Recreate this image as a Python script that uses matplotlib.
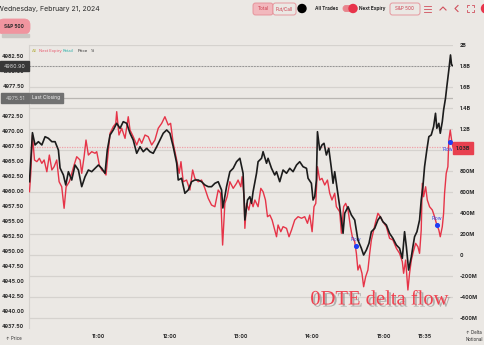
import matplotlib
matplotlib.use("Agg")
import matplotlib.pyplot as plt
import matplotlib.patches as patches
import matplotlib.patheffects as pe
from matplotlib.ticker import FixedLocator, FuncFormatter

plt.rcParams['font.family'] = ['Inter', 'DejaVu Sans']

# time = minutes after 10:00
price_t = [2.4, 4.9, 7.1, 9.9, 12.8, 15.5, 18.3, 21.2, 23.9, 26.7, 28.1, 30.9, 32.9, 35.1,
           37.9, 40.7, 43.5, 46.3, 49.1, 51.9, 54.7, 57.5, 60.3, 63.1, 65.9, 67.8, 70.1, 72.8,
           75.7, 78.5, 81.2, 84.1, 86.9, 89.6, 92.5, 95.3, 98.0, 100.9, 103.6, 106.4, 109.3,
           112.0, 114.8, 117.7, 120.4, 123.2, 126.1, 127.4, 130.2, 133.0, 135.8, 138.6, 141.4,
           144.2, 147.0, 149.8, 152.6, 155.4, 158.2, 161.0, 163.8, 164.9, 168.0, 170.8, 173.6,
           176.4, 179.2, 181.9, 183.4, 185.6, 187.6, 189.0, 190.3, 193.2, 194.5, 197.4, 198.7,
           201.6, 202.9, 205.8, 208.5, 210.0, 212.7, 215.5, 218.4, 221.1, 223.9, 226.8, 229.5,
           232.3, 235.2, 236.5, 239.3, 240.7, 242.1, 243.5, 244.4, 246.3, 248.2, 249.9, 251.9,
           253.9, 256.1, 257.5, 258.9, 260.3, 263.1, 264.5, 265.9, 267.3, 270.1, 272.9, 275.7,
           278.4, 281.3, 283.2, 285.5, 287.7, 289.7, 292.5, 295.2, 297.2, 299.4, 302.3, 305.0,
           307.8, 310.7, 313.4, 315.7, 317.6, 319.1, 321.0, 323.3, 324.6, 326.0, 328.0, 330.2,
           331.6, 333.0, 334.4, 336.3, 338.0, 340.0, 342.0, 343.6, 344.7, 346.4, 347.6, 349.3,
           350.4, 352.0, 353.1, 354.8, 356.2, 357.1, 358.2]
price = [4961.55, 4969.72, 4967.67, 4968.22, 4967.67, 4969.05, 4968.78, 4968.22, 4968.22,
         4966.83, 4963.83, 4962.67, 4961.00, 4963.22, 4961.83, 4964.33, 4963.50, 4960.72,
         4962.38, 4963.50, 4963.22, 4963.78, 4964.33, 4963.78, 4962.95, 4966.83, 4969.33,
         4970.17, 4971.28, 4970.45, 4971.55, 4971.28, 4969.62, 4968.50, 4966.28, 4967.38,
         4966.55, 4967.12, 4966.55, 4966.28, 4967.38, 4968.50, 4969.62, 4970.17, 4969.62,
         4967.38, 4964.62, 4961.83, 4962.12, 4959.62, 4960.17, 4961.55, 4961.83, 4961.83,
         4961.55, 4961.00, 4960.72, 4960.72, 4961.28, 4961.55, 4960.17, 4957.17, 4960.72,
         4963.22, 4963.78, 4964.88, 4965.45, 4962.95, 4955.17, 4958.50, 4959.05, 4957.95,
         4959.88, 4962.95, 4964.88, 4965.45, 4966.55, 4964.62, 4965.45, 4963.78, 4962.67,
         4963.22, 4961.55, 4963.50, 4962.95, 4963.78, 4963.22, 4964.33, 4964.88, 4964.05,
         4963.78, 4962.12, 4961.28, 4958.50, 4959.05, 4961.83, 4969.88, 4966.83, 4967.67,
         4967.95, 4966.00, 4967.12, 4963.78, 4961.28, 4963.22, 4961.28, 4957.38, 4955.17,
         4952.95, 4956.28, 4957.38, 4956.00, 4955.17, 4951.83, 4950.45, 4949.33, 4950.17,
         4951.28, 4953.22, 4953.78, 4955.17, 4955.72, 4954.88, 4954.33, 4952.95, 4952.12,
         4951.00, 4950.45, 4948.78, 4953.22, 4950.72, 4946.83, 4949.05, 4950.72, 4952.38,
         4953.22, 4955.17, 4958.50, 4960.72, 4964.05, 4966.83, 4969.05, 4969.33, 4970.72,
         4972.95, 4970.45, 4971.28, 4969.62, 4971.55, 4973.50, 4975.45, 4977.38, 4980.17,
         4982.67, 4981.00, 4980.90]

delta_t = [2.4, 3.5, 4.9, 6.6, 8.6, 10.7, 12.8, 14.7, 17.0, 19.1, 21.2, 23.1, 25.3, 27.3,
           29.5, 31.5, 33.2, 35.9, 37.9, 39.9, 42.1, 44.9, 46.3, 48.3, 49.9, 51.9, 54.7, 57.5,
           58.9, 61.1, 63.1, 65.0, 66.7, 68.7, 70.1, 72.8, 74.9, 75.7, 77.6, 79.9, 82.7, 85.4,
           86.9, 89.6, 92.5, 94.7, 96.7, 99.5, 102.2, 105.1, 107.8, 110.6, 113.5, 116.2, 119.0,
           121.0, 123.2, 126.1, 128.2, 129.7, 131.6, 134.4, 137.2, 139.5, 141.4, 144.2, 147.0,
           149.8, 152.6, 155.4, 158.2, 161.0, 163.0, 164.7, 166.6, 168.5, 170.8, 173.6, 176.4,
           177.7, 180.0, 181.1, 182.8, 183.4, 184.8, 186.7, 188.4, 190.3, 191.8, 194.5, 196.8,
           198.7, 200.7, 202.4, 204.4, 206.3, 208.5, 210.0, 211.3, 213.6, 215.5, 218.4, 220.5,
           222.6, 225.3, 228.1, 231.0, 233.7, 236.0, 237.9, 239.9, 241.5, 243.0, 244.4, 246.3,
           248.2, 250.5, 252.8, 254.7, 256.6, 258.9, 260.3, 263.1, 264.5, 266.4, 268.1, 270.1,
           272.1, 273.7, 275.7, 277.1, 278.4, 279.9, 281.8, 283.2, 284.9, 286.8, 288.3, 289.7,
           291.0, 293.3, 295.2, 297.2, 299.4, 302.3, 305.0, 307.8, 310.7, 313.4, 315.7, 316.8,
           318.5, 320.4, 321.8, 323.3, 324.6, 326.9, 328.8, 330.2, 331.6, 332.5, 333.6, 335.3,
           336.7, 338.6, 340.9, 342.8, 344.7, 346.4, 347.6, 349.3, 350.4, 351.2, 352.6, 354.0,
           354.8, 356.0, 357.1, 358.2]
delta = [603, 778, 1143, 905, 889, 921, 873, 905, 793, 952, 810, 841, 905, 698, 650, 445, 650,
         698, 778, 857, 936, 905, 778, 936, 1095, 952, 984, 969, 984, 857, 810, 793, 762, 1000,
         1159, 1222, 1254, 1365, 1143, 1207, 1111, 1317, 1190, 1127, 1048, 1111, 1064, 1143,
         1127, 1048, 1095, 1207, 1254, 1317, 1238, 1254, 1064, 905, 778, 889, 698, 714, 619,
         810, 730, 698, 714, 635, 540, 476, 460, 619, 588, 95, 492, 555, 698, 635, 683, 714,
         650, 746, 540, 254, 492, 429, 524, 460, 524, 460, 635, 603, 524, 365, 381, 333, 238,
         174, 286, 222, 270, 254, 174, 238, 333, 365, 350, 365, 302, 381, 222, 460, 492, 841,
         714, 730, 667, 714, 588, 524, 588, 460, 412, 207, 460, 492, 429, 270, 174, 127, 16,
         -143, -95, -174, -302, -207, -143, 16, 143, 207, 317, 397, 365, 317, 270, 159, 143, 64,
         16, -64, -174, -48, -333, -174, -48, 16, 111, 79, 16, 238, 683, 555, 650, 524, 460,
         429, 365, 286, 238, 174, 270, 397, 587, 778, 841, 1095, 1190, 1095, 1030]

flow_t = [276.5, 345.1, 355.6]
flow_v = [89, 286, 1079]

price_ticks = [4937.5, 4940.0, 4942.5, 4945.0, 4947.5, 4950.0, 4952.5, 4955.0, 4957.5,
               4960.0, 4962.5, 4965.0, 4967.5, 4970.0, 4972.5, 4975.0, 4977.5, 4980.0, 4982.5]
delta_ticks = [-600, -400, -200, 0, 200, 400, 600, 800, 1000, 1200, 1400, 1600, 1800, 2000]
time_ticks = [60, 120, 180, 240, 300, 335]
time_labels = ["11:00", "12:00", "13:00", "14:00", "15:00", "15:35"]
last_price = 4980.90
last_close = 4975.51
last_delta = 1030

BG = "#ebe8e4"
GRID = "#d5d2ce"
RED = "#e63448"
TXT = "#2a2a2a"

fig = plt.figure(figsize=(4.85, 3.45), dpi=100, facecolor=BG)
ax = fig.add_axes([29 / 485, 17 / 345, 424 / 485, 283 / 345])
ax2 = ax.twinx()
ax.set_zorder(ax2.get_zorder() + 1)
ax.patch.set_visible(False)
ax2.patch.set_visible(True)
ax2.patch.set_facecolor(BG)

ax.set_xlim(2.0, 358.3)
ax.set_ylim(4937.17, 4984.33)
ax2.set_ylim(-695, 2000)

# grid from the right axis + time ticks
ax2.yaxis.set_major_locator(FixedLocator(delta_ticks))
ax2.xaxis.set_major_locator(FixedLocator(time_ticks))
ax2.grid(True, color=GRID, linewidth=0.9)
ax2.set_axisbelow(True)


def fmt_delta(v, pos):
    if v == 0:
        return "0"
    if v == 1000:
        return ""  # hidden behind the last-value box
    if abs(v) >= 1000:
        return f"{v / 1000:g}B"
    return f"{int(v)}M"


ax2.yaxis.set_major_formatter(FuncFormatter(fmt_delta))
ax2.tick_params(axis='y', length=0, pad=5, labelsize=3.8, labelcolor=TXT)

ax.yaxis.set_major_locator(FixedLocator(price_ticks))
ax.yaxis.set_major_formatter(FuncFormatter(lambda v, p: f"{v:.2f}"))
ax.tick_params(axis='y', length=0, pad=3.5, labelsize=3.8, labelcolor=TXT)
ax.set_xticks(time_ticks)
ax.set_xticklabels(time_labels)
ax.tick_params(axis='x', length=0, pad=4.5, labelsize=3.8, labelcolor=TXT)
for lab in ax.get_yticklabels() + ax.get_xticklabels() + ax2.get_yticklabels():
    lab.set_fontweight('bold')

for a in (ax, ax2):
    for s in a.spines.values():
        s.set_visible(False)
ax2.spines['left'].set_visible(True)
ax2.spines['left'].set_color(GRID)

# reference lines
ax.axhline(last_price, color="#8a8a8a", linestyle=(0, (2, 1.5)), linewidth=0.6)
ax.axhline(last_close, color="#b9b6b2", linewidth=0.9)
ax2.axhline(last_delta, color="#f0a0a8", linestyle=(0, (1, 1)), linewidth=0.9)

ax2.plot(delta_t, delta, color=RED, linewidth=1.0, zorder=3)
ax.plot(price_t, price, color="#1c1c1c", linewidth=1.2, zorder=4)
ax2.scatter(flow_t, flow_v, s=7, color="#1f3df5", zorder=5)
ax2.annotate("Flow", (flow_t[0], flow_v[0]), xytext=(0, 3.5), textcoords='offset points',
             ha='center', fontsize=3.4, color="#2a45f0")
ax2.annotate("Flow", (flow_t[1], flow_v[1]), xytext=(0, 3.5), textcoords='offset points',
             ha='center', fontsize=3.4, color="#2a45f0")
ax2.annotate("Flow", (flow_t[2], flow_v[2]), xytext=(-1, -7), textcoords='offset points',
             ha='center', fontsize=3.4, color="#2a45f0")

# overlay in pixel coordinates for the UI bits
ov = fig.add_axes([0, 0, 1, 1])
ov.set_xlim(0, 485)
ov.set_ylim(345, 0)
ov.axis('off')
ov.set_zorder(10)
ov.patch.set_visible(False)


def pill(x0, y0, w, h, fc, ec, r=2.5):
    ov.add_patch(patches.FancyBboxPatch((x0, y0), w, h, boxstyle=f"round,pad=0,rounding_size={r}",
                                        fc=fc, ec=ec, lw=0.6))


ov.text(-3, 9, "Wednesday, February 21, 2024", fontsize=5.0, va='center', color=TXT)

pill(253, 3, 20, 12, "#f2b8bd", "#e58d95")
ov.text(263, 9, "Total", fontsize=3.4, ha='center', va='center', color="#cc3c4c")
pill(273, 3, 23, 12, BG, "#e58d95")
ov.text(284.5, 9, "Put/Call", fontsize=3.4, ha='center', va='center', color="#cc3c4c")
ov.add_patch(patches.Circle((302, 8.5), 4, color="#000000"))
ov.text(315, 8.5, "All Trades", fontsize=3.4, va='center', color=TXT, fontweight='bold')
pill(343, 5.5, 14, 6, "#e8848c", "#e8848c", r=3)
ov.add_patch(patches.Circle((353, 8.5), 4, color="#e8334a"))
ov.text(359, 8.5, "Next Expiry", fontsize=3.4, va='center', color=TXT, fontweight='bold')
pill(390, 3, 30, 12, BG, "#e58d95")
ov.text(405, 9, "S&P 500", fontsize=3.4, ha='center', va='center', color="#cc3c4c")
for yy in (6, 9, 12):
    ov.plot([424, 431], [yy, yy], color="#d0505c", lw=0.6)
ov.plot([440, 443, 446], [10, 7, 10], color="#d0505c", lw=0.8)
ov.plot([458, 455, 458], [5.5, 8.5, 11.5], color="#d0505c", lw=0.8)
ov.plot([467, 467, 469], [7, 5, 5], color="#d0505c", lw=0.6)
ov.plot([472, 474, 474], [5, 5, 7], color="#d0505c", lw=0.6)
ov.plot([467, 467, 469], [10, 12, 12], color="#d0505c", lw=0.6)
ov.plot([472, 474, 474], [12, 12, 10], color="#d0505c", lw=0.6)
ov.add_patch(patches.Circle((486, 8.5), 4.5, color="#e8334a"))

pill(-2, 19, 32, 15, "#f0959f", "#f0959f", r=6)
ov.text(14, 26.5, "S&P 500", fontsize=3.4, ha='center', va='center', color=TXT, fontweight='bold')
ov.add_patch(patches.Rectangle((2, 34), 27, 2.5, color="#cac7c3"))

# legend row
leg = [("All", "#b8b24a", 32), ("Next Expiry", "#e8576c", 39.5), ("Retail", "#2fb0aa", 63),
       ("Price", TXT, 78), ("1d", "#555555", 90.5)]
for s, c, xx in leg:
    ov.text(xx, 51, s, fontsize=3.0, color=c, va='center')

# value boxes
ov.add_patch(patches.Rectangle((0, 61), 29, 10, color="#383838"))
ov.text(14.5, 66, f"{last_price:.2f}", fontsize=3.8, ha='center', va='center', color="#d8d8d8")
ov.add_patch(patches.Rectangle((1, 93), 28, 10, color="#6c6c6c"))
ov.text(15, 98, f"{last_close:.2f}", fontsize=3.8, ha='center', va='center', color="#d0d0d0")
ov.add_patch(patches.Rectangle((30, 93), 33, 10, color="#727272"))
ov.text(46.5, 98, "Last Closing", fontsize=3.5, ha='center', va='center', color="#f0f0f0")
ov.add_patch(patches.Rectangle((453, 142), 20, 12, color="#e8404f"))
ov.text(463, 148, f"{last_delta / 1000:.2f}B", fontsize=3.8, ha='center', va='center',
        color=TXT, fontweight='bold')

ov.text(6, 338, "↑ Price", fontsize=3.2, va='center', color=TXT)
ov.text(474, 333, "↑ Delta", fontsize=3.2, ha='center', va='center', color=TXT)
ov.text(474, 339.5, "Notional", fontsize=3.2, ha='center', va='center', color=TXT)

ov.text(379, 300, "0DTE delta flow", fontsize=14.8, family=['Liberation Serif', 'DejaVu Serif'],
        ha='center', va='center', color="#f0414f",
        path_effects=[pe.withSimplePatchShadow(offset=(1.5, -1.5), shadow_rgbFace="#777777",
                                               alpha=0.5)])

fig.savefig("out.png", dpi=100, facecolor=BG)
